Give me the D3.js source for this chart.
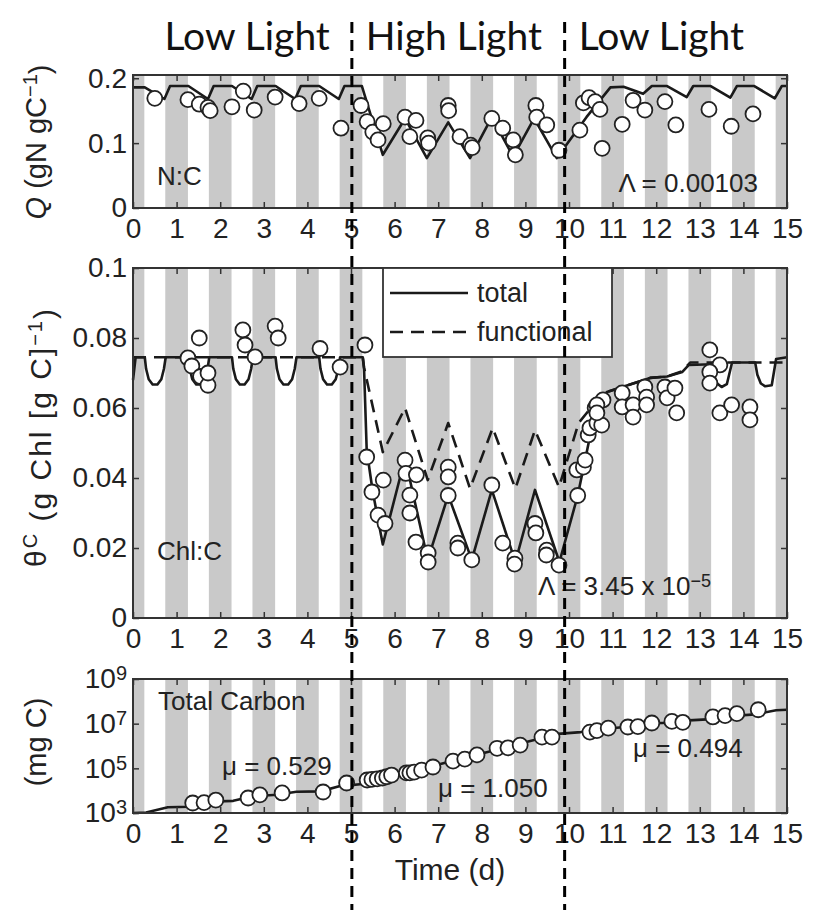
<!DOCTYPE html>
<html>
<head>
<meta charset="utf-8">
<script src="https://cdn.jsdelivr.net/npm/d3@7"></script>
<style>
body { margin: 0; background: #fff; }
svg text { font-family: "Liberation Sans", Arial, Helvetica, sans-serif; fill: #222; }
svg text.head { font-family: Lato, "Open Sans", sans-serif; fill: #111; }
</style>
</head>
<body>
<svg id="chart" width="813" height="910"></svg>
<script>
// ---- data ----
var dayTicks = [0, 1, 2, 3, 4, 5, 6, 7, 8, 9, 10, 11, 12, 13, 14, 15];

// dark periods (days)
var darkStart = [0, 0.74, 1.74, 2.74, 3.74, 4.74, 5.74, 6.74, 7.74, 8.74, 9.74, 10.74, 11.74, 12.74, 13.74, 14.74];
var darkEnd   = [0.26, 1.26, 2.26, 3.26, 4.26, 5.26, 6.26, 7.26, 8.26, 9.26, 10.26, 11.26, 12.26, 13.26, 14.26, 15];

// light switches and phase names
var phaseBreaks = [5.02, 9.9];
var phaseNames = ["Low Light", "High Light", "Low Light"];

// N:C  (gN gC-1)
var qModel = [[0, 0.186], [0.27, 0.186], [0.72, 0.168], [0.85, 0.188], [1.27, 0.188], [1.72, 0.168], [1.85, 0.188],
  [2.27, 0.188], [2.72, 0.168], [2.85, 0.188], [3.27, 0.188], [3.72, 0.168], [3.85, 0.188], [4.27, 0.188],
  [4.72, 0.168], [4.85, 0.188], [5.25, 0.188], [5.73, 0.082], [6.24, 0.138], [6.74, 0.077], [7.23, 0.132],
  [7.73, 0.077], [8.23, 0.14], [8.72, 0.079], [9.2, 0.138], [9.72, 0.077], [10.4, 0.14], [10.95, 0.186],
  [11.25, 0.187], [11.7, 0.176], [11.9, 0.188], [12.25, 0.188], [12.7, 0.171], [12.85, 0.188], [13.25, 0.188],
  [13.7, 0.17], [13.85, 0.188], [14.25, 0.188], [14.72, 0.169], [14.88, 0.188], [15, 0.188]];
var qObs = [[0.5, 0.169], [1.26, 0.167], [1.52, 0.16], [1.72, 0.155], [1.77, 0.15], [2.27, 0.156], [2.53, 0.18],
  [2.78, 0.151], [3.26, 0.171], [3.81, 0.161], [4.27, 0.169], [4.77, 0.123], [5.23, 0.158], [5.37, 0.133],
  [5.5, 0.117], [5.62, 0.105], [5.74, 0.13], [6.24, 0.14], [6.35, 0.11], [6.49, 0.135], [6.76, 0.108],
  [6.78, 0.1], [7.23, 0.158], [7.24, 0.15], [7.5, 0.11], [7.74, 0.097], [7.78, 0.093], [8.23, 0.138],
  [8.48, 0.123], [8.72, 0.105], [8.77, 0.082], [9.24, 0.158], [9.26, 0.14], [9.49, 0.128], [9.77, 0.089],
  [10.25, 0.12], [10.33, 0.162], [10.46, 0.17], [10.6, 0.164], [10.71, 0.152], [10.76, 0.092], [11.22, 0.129],
  [11.47, 0.166], [11.74, 0.151], [12.2, 0.164], [12.45, 0.128], [13.21, 0.152], [13.72, 0.126], [14.22, 0.145]];

// Chl:C  (g Chl [g C]-1)
var chlTotal = [[0, 0.068], [0.06, 0.0745],
  [0.27, 0.0745], [0.3, 0.0712], [0.36, 0.0682], [0.45, 0.0667], [0.56, 0.0667], [0.65, 0.0682], [0.71, 0.0712], [0.75, 0.0745],
  [1.27, 0.0745], [1.3, 0.0712], [1.36, 0.0682], [1.45, 0.0667], [1.56, 0.0667], [1.65, 0.0682], [1.71, 0.0712], [1.75, 0.0745],
  [2.27, 0.0745], [2.3, 0.0712], [2.36, 0.0682], [2.45, 0.0667], [2.56, 0.0667], [2.65, 0.0682], [2.71, 0.0712], [2.75, 0.0745],
  [3.27, 0.0745], [3.3, 0.0712], [3.36, 0.0682], [3.45, 0.0667], [3.56, 0.0667], [3.65, 0.0682], [3.71, 0.0712], [3.75, 0.0745],
  [4.27, 0.0745], [4.3, 0.0712], [4.36, 0.0682], [4.45, 0.0667], [4.56, 0.0667], [4.65, 0.0682], [4.71, 0.0712], [4.75, 0.0745],
  [5.27, 0.0745], [5.3, 0.071], [5.36, 0.048], [5.5, 0.036], [5.73, 0.021], [6.24, 0.0457], [6.76, 0.0166],
  [7.23, 0.0351], [7.77, 0.0166], [8.23, 0.0366], [8.77, 0.016], [9.22, 0.0366], [9.78, 0.016], [10.2, 0.035],
  [10.45, 0.05], [10.64, 0.0586], [10.87, 0.0646], [11.47, 0.067], [11.86, 0.0686], [12.25, 0.069], [12.6, 0.0703],
  [12.75, 0.0723], [13.27, 0.0725], [13.32, 0.0695], [13.4, 0.067], [13.5, 0.066], [13.62, 0.0668], [13.74, 0.073],
  [14.27, 0.073], [14.32, 0.0695], [14.4, 0.067], [14.5, 0.0662], [14.65, 0.0665], [14.75, 0.074], [15, 0.0745]];
var chlFunctional = [[0, 0.0745], [5.27, 0.0745], [5.3, 0.0715], [5.73, 0.0474], [6.24, 0.06], [6.76, 0.0394],
  [7.23, 0.0557], [7.73, 0.037], [8.25, 0.0543], [8.77, 0.037], [9.22, 0.0537], [9.77, 0.0374], [10.22, 0.0557],
  [10.5, 0.06], [10.87, 0.0646], [11.47, 0.067], [11.86, 0.0686], [12.25, 0.069], [12.6, 0.0705], [12.78, 0.073], [15, 0.073]];
var chlObs = [[1.26, 0.0743], [1.35, 0.072], [1.52, 0.08], [1.55, 0.069], [1.72, 0.0665], [1.72, 0.07],
  [2.52, 0.0823], [2.57, 0.078], [2.8, 0.0746], [3.26, 0.0834], [3.33, 0.08], [4.29, 0.077], [4.75, 0.0717], [5.32, 0.078],
  [5.36, 0.046], [5.48, 0.036], [5.74, 0.0394], [5.62, 0.0294], [5.78, 0.027], [6.24, 0.0451], [6.26, 0.0413],
  [6.5, 0.0409], [6.35, 0.0351], [6.35, 0.03], [6.49, 0.0217], [6.77, 0.0186], [6.77, 0.016], [7.23, 0.0431],
  [7.23, 0.0403], [7.23, 0.035], [7.45, 0.0214], [7.45, 0.02], [7.77, 0.0166], [8.23, 0.038], [8.48, 0.0214],
  [8.76, 0.0171], [8.75, 0.0154], [9.22, 0.027], [9.24, 0.0243], [9.49, 0.0194], [9.48, 0.018], [9.77, 0.0151],
  [10.2, 0.035], [10.18, 0.0423], [10.33, 0.0431], [10.37, 0.0451], [10.44, 0.0523], [10.48, 0.0543], [10.6, 0.06],
  [10.64, 0.0557], [10.78, 0.0623], [10.64, 0.0609], [10.75, 0.0551], [10.64, 0.0586], [11.22, 0.0643],
  [11.22, 0.0603], [11.47, 0.0609], [11.47, 0.0574], [11.74, 0.066], [11.78, 0.0631], [11.78, 0.0609],
  [12.2, 0.066], [12.25, 0.0629], [12.43, 0.0657], [12.47, 0.0586], [13.23, 0.0766], [13.46, 0.0723],
  [13.23, 0.0703], [13.23, 0.0671], [13.46, 0.0586], [13.73, 0.0609], [14.15, 0.0603], [14.15, 0.0566]];

// Total carbon (mg C)
var carbonModel = [[0, 1.0e3], [0.3, 1.05e3], [0.8, 1.8e3], [1.3, 1.9e3], [1.75, 3.2e3], [2.3, 3.5e3], [2.75, 5.6e3],
  [3.3, 6.6e3], [3.75, 8.9e3], [4.3, 9.3e3], [4.75, 1.6e4], [5.27, 2.0e4], [5.75, 4.0e4], [6.27, 6.3e4],
  [6.75, 1.1e5], [7.27, 2.0e5], [7.75, 3.5e5], [8.27, 6.3e5], [8.75, 1.1e6], [9.27, 2.0e6], [9.75, 3.5e6],
  [10.27, 4.2e6], [10.75, 5.6e6], [11.27, 7.1e6], [11.75, 1.0e7], [12.27, 1.1e7], [12.75, 1.4e7], [13.27, 1.6e7],
  [13.75, 2.2e7], [14.27, 2.6e7], [14.75, 4.0e7], [15, 4.2e7]];
var carbonObs = [[1.37, 2.8e3], [1.63, 2.9e3], [1.9, 3.8e3], [2.64, 4.7e3], [2.91, 6.5e3], [3.42, 7.9e3],
  [4.36, 8.7e3], [4.9, 2.2e4], [5.37, 3.0e4], [5.48, 3.2e4], [5.6, 3.4e4], [5.72, 3.7e4], [5.82, 4.2e4],
  [5.93, 5.0e4], [6.27, 6.3e4], [6.35, 6.3e4], [6.45, 6.8e4], [6.62, 8.3e4], [6.88, 1.15e5], [7.34, 2.1e5],
  [7.61, 2.6e5], [7.89, 4.0e5], [8.35, 7.9e5], [8.6, 8.3e5], [8.88, 1.1e6], [9.38, 2.5e6], [9.61, 2.5e6],
  [10.48, 4.2e6], [10.64, 4.9e6], [10.9, 6.3e6], [11.35, 7.1e6], [11.58, 7.4e6], [11.9, 1.07e7], [12.36, 1.26e7],
  [12.61, 1.15e7], [13.3, 2.0e7], [13.58, 2.3e7], [13.85, 2.8e7], [14.34, 4.2e7]];

// ---- drawing ----
var svg = d3.select("#chart");
var LEFT = 133, RIGHT = 787;
var xScale = d3.scaleLinear().domain([0, 15]).range([LEFT, RIGHT]);
var INK = "#222";

function bands(g, top, bottom) {
	g.selectAll("rect.night").data(darkStart).enter().append("rect")
		.attr("class", "night")
		.attr("x", function(d) { return xScale(d); })
		.attr("width", function(d, i) { return xScale(darkEnd[i]) - xScale(d); })
		.attr("y", top).attr("height", bottom - top)
		.attr("fill", "#c9c9c9");
}

function styleAxis(sel) {
	sel.select(".domain").remove();
	sel.selectAll(".tick line").attr("stroke", "#333").attr("stroke-width", 1.5);
	sel.selectAll("text").style("font-size", "28px").attr("fill", INK);
}

function axes(g, yScale, top, bottom, yTicks, fmt) {
	g.append("g").attr("transform", "translate(0," + bottom + ")")
		.call(d3.axisBottom(xScale).tickValues(dayTicks).tickSize(-6).tickPadding(10).tickFormat(d3.format("d")))
		.call(styleAxis);
	g.append("g").attr("transform", "translate(0," + top + ")")
		.call(d3.axisTop(xScale).tickValues(dayTicks).tickSize(-6).tickFormat(""))
		.call(styleAxis);
	var left = g.append("g").attr("transform", "translate(" + LEFT + ",0)")
		.call(d3.axisLeft(yScale).tickValues(yTicks).tickSize(-6).tickPadding(6).tickFormat(fmt))
		.call(styleAxis);
	g.append("g").attr("transform", "translate(" + RIGHT + ",0)")
		.call(d3.axisRight(yScale).tickValues(yTicks).tickSize(-6).tickFormat(""))
		.call(styleAxis);
	g.append("rect").attr("x", LEFT).attr("y", top).attr("width", RIGHT - LEFT).attr("height", bottom - top)
		.attr("fill", "none").attr("stroke", "#333").attr("stroke-width", 2);
	return left;
}

function lineOf(yScale) {
	return d3.line().x(function(d) { return xScale(d[0]); }).y(function(d) { return yScale(d[1]); });
}

function series(g, data, yScale, dash) {
	g.append("path").attr("d", lineOf(yScale)(data))
		.attr("fill", "none").attr("stroke", "#1a1a1a").attr("stroke-width", 2.6)
		.attr("stroke-linejoin", "round")
		.attr("stroke-dasharray", dash ? "13,8" : null);
}

function dots(g, data, yScale) {
	g.selectAll("circle.obs").data(data).enter().append("circle")
		.attr("class", "obs")
		.attr("cx", function(d) { return xScale(d[0]); })
		.attr("cy", function(d) { return yScale(d[1]); })
		.attr("r", 7.5)
		.attr("fill", "#fff").attr("stroke", "#222").attr("stroke-width", 1.8);
}

function label(x, y, str, size, anchor) {
	return svg.append("text").attr("x", x).attr("y", y)
		.attr("text-anchor", anchor || "start")
		.style("font-size", size + "px").text(str);
}

// panel 1: N:C
var y1 = d3.scaleLinear().domain([0, 0.205]).range([208, 75]);
var p1 = svg.append("g");
bands(p1, 75, 208);
series(p1, qModel, y1, false);
dots(p1, qObs, y1);
axes(p1, y1, 75, 208, [0, 0.1, 0.2], d3.format("~g"));

// panel 2: Chl:C
var y2 = d3.scaleLinear().domain([0, 0.1]).range([618, 268]);
var p2 = svg.append("g");
bands(p2, 268, 618);
series(p2, chlFunctional, y2, true);
series(p2, chlTotal, y2, false);
dots(p2, chlObs, y2);
axes(p2, y2, 268, 618, [0, 0.02, 0.04, 0.06, 0.08, 0.1], d3.format("~g"));

// legend
var lg = p2.append("g");
lg.append("rect").attr("x", 383).attr("y", 268).attr("width", 229).attr("height", 89)
	.attr("fill", "#fff").attr("stroke", "#333").attr("stroke-width", 1.8);
lg.append("line").attr("x1", 390).attr("x2", 468).attr("y1", 293).attr("y2", 293)
	.attr("stroke", "#1a1a1a").attr("stroke-width", 2.6);
lg.append("line").attr("x1", 390).attr("x2", 468).attr("y1", 332).attr("y2", 332)
	.attr("stroke", "#1a1a1a").attr("stroke-width", 2.6).attr("stroke-dasharray", "13,8");
lg.append("text").attr("x", 477).attr("y", 302).style("font-size", "27px").text("total");
lg.append("text").attr("x", 477).attr("y", 341).style("font-size", "27px").text("functional");

// panel 3: total carbon
var y3 = d3.scaleLog().domain([1e3, 1e9]).range([813, 679]);
var p3 = svg.append("g");
bands(p3, 679, 813);
series(p3, carbonModel, y3, false);
dots(p3, carbonObs, y3);
var left3 = axes(p3, y3, 679, 813, [1e3, 1e5, 1e7, 1e9], function(d) { return "10"; });
left3.selectAll("text").each(function(d) {
	var t = d3.select(this);
	t.text("");
	t.append("tspan").text("10");
	t.append("tspan").attr("dy", "-0.4em").style("font-size", "20px").text(Math.round(Math.log10(d)));
});

// annotations
label(157, 185, "N:C", 26);
label(758, 192, "Λ = 0.00103", 26, "end");
label(157, 560, "Chl:C", 26);
var lam = label(538, 595, "Λ = 3.45 x 10", 26);
lam.append("tspan").attr("dy", "-0.45em").style("font-size", "18px").text("−5");
label(158, 710, "Total Carbon", 26);
label(222, 775, "μ = 0.529", 26);
label(438, 797, "μ = 1.050", 26);
label(633, 757, "μ = 0.494", 26);

// axis titles
var t1 = svg.append("text").attr("transform", "translate(46,142) rotate(-90)")
	.attr("text-anchor", "middle").style("font-size", "29px");
t1.append("tspan").style("font-style", "italic").text("Q");
t1.append("tspan").text(" (gN gC");
t1.append("tspan").attr("dy", "-0.45em").style("font-size", "20px").text("−1");
t1.append("tspan").attr("dy", "0.45em").text(")");

var t2 = svg.append("text").attr("transform", "translate(46,437) rotate(-90)")
	.attr("text-anchor", "middle").style("font-size", "30px").style("letter-spacing", "2px");
t2.append("tspan").text("θ");
t2.append("tspan").attr("dy", "-0.45em").style("font-size", "20px").text("C");
t2.append("tspan").attr("dy", "0.45em").text(" (g Chl [g C]");
t2.append("tspan").attr("dy", "-0.45em").style("font-size", "20px").text("−1");
t2.append("tspan").attr("dy", "0.45em").text(")");

svg.append("text").attr("transform", "translate(46,742) rotate(-90)")
	.attr("text-anchor", "middle").style("font-size", "29px").text("(mg C)");

label(450, 880, "Time (d)", 30, "middle");

// phase headers
svg.append("text").attr("class", "head").attr("x", xScale(phaseBreaks[0]) - 22).attr("y", 50)
	.attr("text-anchor", "end").style("font-size", "39px").text(phaseNames[0]);
svg.append("text").attr("class", "head").attr("x", xScale(phaseBreaks[0]) + 14).attr("y", 50)
	.style("font-size", "39px").text(phaseNames[1]);
svg.append("text").attr("class", "head").attr("x", xScale(phaseBreaks[1]) + 14).attr("y", 50)
	.style("font-size", "39px").text(phaseNames[2]);

// light switch markers
svg.selectAll("line.phase").data(phaseBreaks).enter().append("line")
	.attr("class", "phase")
	.attr("x1", function(d) { return xScale(d); }).attr("x2", function(d) { return xScale(d); })
	.attr("y1", 22).attr("y2", 910)
	.attr("stroke", "#000").attr("stroke-width", 3).attr("stroke-dasharray", "11,7");
</script>
</body>
</html>
